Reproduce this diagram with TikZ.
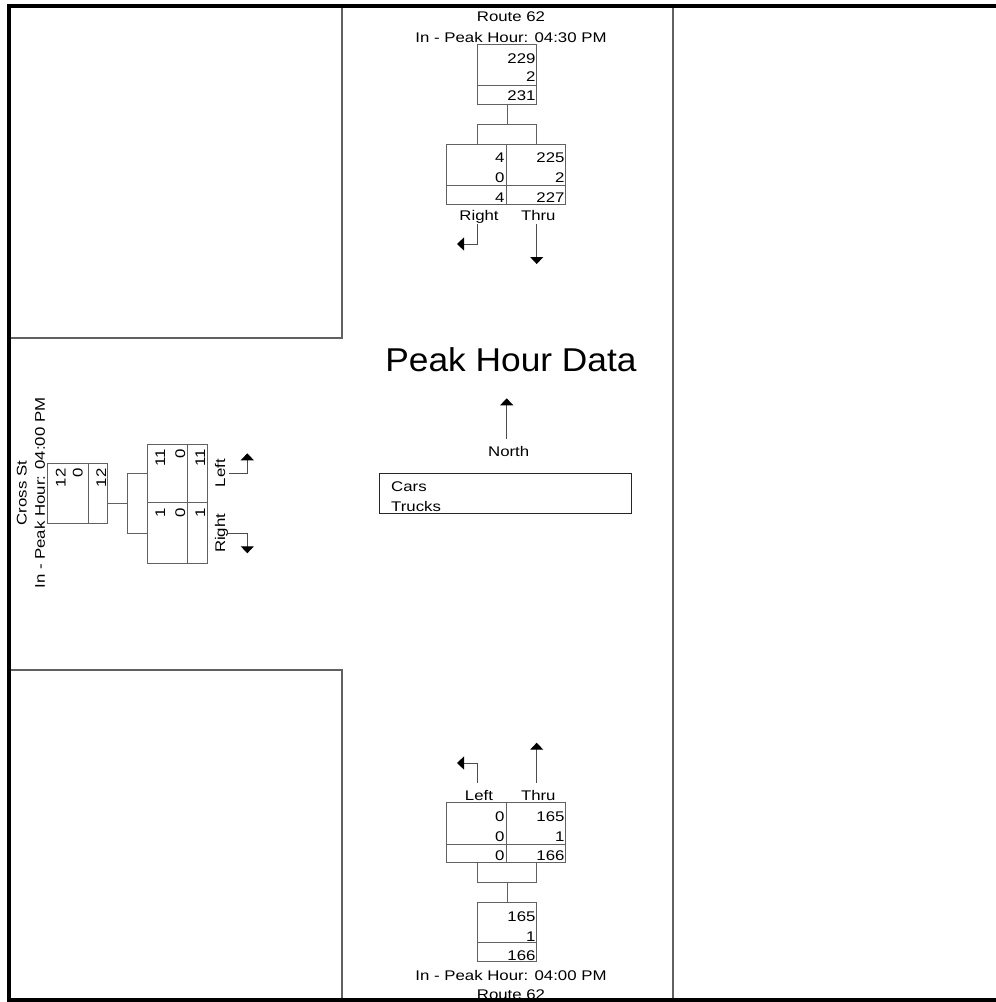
\documentclass[tikz,border=0pt]{standalone}
\usepackage{fontspec}
\newfontfamily\tcfont[FakeStretch=1.2]{Liberation Sans}
\newfontfamily\tcbigfont[FakeStretch=1.07]{Liberation Sans}
\usetikzlibrary{arrows.meta}
\definecolor{linegray}{gray}{0.38}
\definecolor{wiregray}{gray}{0.3}

\begin{document}
\begin{tikzpicture}
[x=1pt,y=-1pt,line width=1pt,
txt/.style={inner sep=0pt, font={\tcfont\fontsize{14}{16}\selectfont}},
num/.style={txt, anchor=base east},
rnum/.style={txt, anchor=base east, rotate=90},
rlbl/.style={txt, anchor=base, rotate=90},
cbox/.style={draw=linegray, line width=1pt, inner sep=0pt, outer sep=0pt},
wire/.style={draw=linegray, line width=1pt},
turn/.style={draw=wiregray, line width=1pt, -{Triangle[width=13pt,length=7pt,color=black]}},
outer line/.style={line width=4pt},
grid line/.style={draw=linegray, line width=1.3pt}]
\useasboundingbox (0,0) rectangle (996,1002);
\clip (0,0) rectangle (996,1002);

% street blocks
\draw[grid line] (342,6) -- (342,338) -- (9,338);
\draw[grid line] (9,670) -- (342,670) -- (342,1000);
\draw[grid line] (673,6) -- (673,1000);

% north approach (Route 62)
\node[txt, anchor=base] (rtN) at (511,21) {Route 62};
\node[txt, anchor=base] (pkN) at (511,42.5) {In - Peak Hour: 04:30 PM};
\node[cbox, minimum width=59pt, minimum height=60pt] (inN) at (507.2,74) {};
\draw[wire] (477.7,85) -- (536.7,85);
\node[num] (inN1) at (536,63.3) {229};
\node[num] (inN2) at (536,81.7) {2};
\node[num] (inN3) at (536,100) {231};
\node[cbox, minimum width=119pt, minimum height=59.7pt] (apN) at (506.2,174.2) {};
\draw[wire] (446.7,185.3) -- (565.7,185.3);
\draw[wire] (506.7,144.3) -- (506.7,204);
\node[num] (apNr1) at (505,162.3) {4};
\node[num] (apNr2) at (505,182.3) {0};
\node[num] (apNr3) at (505,202.3) {4};
\node[num] (apNt1) at (565,162.3) {225};
\node[num] (apNt2) at (565,182.3) {2};
\node[num] (apNt3) at (565,202.3) {227};
\coordinate (nL) at (477.3,124.3);
\coordinate (nT) at (536.7,124.3);
\draw[wire] (inN.south) -- (inN.south |- nL);
\draw[wire] (nL |- apN.north) -- (nL) -- (nT) -- (nT |- apN.north);
\node[txt, anchor=base] (lbNr) at (479,220.5) {Right};
\node[txt, anchor=base] (lbNt) at (538.3,220.5) {Thru};
\coordinate (tipNr) at (457,244);
\coordinate (tipNt) at (536.7,264);
\draw[turn] (nL |- lbNr.south) |- (tipNr);
\draw[turn] (nT |- lbNr.south) -- (tipNt);

% west approach (Cross St)
\node[rlbl] (rtW) at (26.7,493) {Cross St};
\node[rlbl] (pkW) at (45,493) {In - Peak Hour: 04:00 PM};
\node[cbox, minimum width=59.6pt, minimum height=60pt] (inW) at (77.5,493.3) {};
\draw[wire] (88.3,463.3) -- (88.3,523.3);
\node[rnum] (inW1) at (65.7,468) {12};
\node[rnum] (inW2) at (82.7,468) {0};
\node[rnum] (inW3) at (106,468) {12};
\node[cbox, minimum width=59.6pt, minimum height=119.3pt] (apW) at (177.5,503.65) {};
\draw[wire] (147.7,502.7) -- (207.3,502.7);
\draw[wire] (187.7,444) -- (187.7,563.3);
\node[rnum] (apWl1) at (165,449) {11};
\node[rnum] (apWl2) at (185,449) {0};
\node[rnum] (apWl3) at (205,449) {11};
\node[rnum] (apWr1) at (165,508) {1};
\node[rnum] (apWr2) at (185,508) {0};
\node[rnum] (apWr3) at (205,508) {1};
\coordinate (wJ) at (127.3,503.3);
\coordinate (wL) at (127.3,473.3);
\coordinate (wR) at (127.3,533.3);
\draw[wire] (inW.east |- wJ) -- (wJ);
\draw[wire] (apW.west |- wL) -- (wL) -- (wR) -- (apW.west |- wR);
\node[rlbl] (lbWl) at (225,473.3) {Left};
\node[rlbl] (lbWr) at (225,533.3) {Right};
\coordinate (tipWl) at (247.3,453.3);
\coordinate (tipWr) at (247.3,553.3);
\draw[turn, shorten <=3pt] (lbWl.south) -| (tipWl);
\draw[turn] (lbWr.south |- wR) -| (tipWr);

% title, compass and legend
\node[inner sep=0pt, anchor=base, font={\tcbigfont\fontsize{33}{36}\selectfont}] (title) at (511,371) {Peak Hour Data};
\node[txt, anchor=base] (north) at (508.7,456) {North};
\coordinate (tipN) at (506.7,398.3);
\draw[turn, shorten <=6.5pt] (tipN |- north.north) -- (tipN);
\node[draw=black!85, line width=1pt, inner sep=0pt, minimum width=251.7pt, minimum height=40pt] (legend) at (505.2,493.3) {};
\node[txt, anchor=base west] (cars) at (390.7,491.7) {Cars};
\node[txt, anchor=base west] (trucks) at (390.7,511.7) {Trucks};

% south approach (Route 62)
\node[cbox, minimum width=119pt, minimum height=59.6pt] (apS) at (506.2,832.5) {};
\draw[wire] (446.7,844) -- (565.7,844);
\draw[wire] (506.7,802.7) -- (506.7,862.3);
\node[num] (apSl1) at (505,821.7) {0};
\node[num] (apSl2) at (505,841.7) {0};
\node[num] (apSl3) at (505,860.7) {0};
\node[num] (apSt1) at (565,821.7) {165};
\node[num] (apSt2) at (565,841.7) {1};
\node[num] (apSt3) at (565,860.7) {166};
\node[cbox, minimum width=59pt, minimum height=59pt] (inS) at (507.2,932.2) {};
\draw[wire] (477.7,942.3) -- (536.7,942.3);
\node[num] (inS1) at (536,921) {165};
\node[num] (inS2) at (536,941) {1};
\node[num] (inS3) at (536,960.7) {166};
\coordinate (sL) at (477.3,882.7);
\coordinate (sT) at (536.7,882.7);
\draw[wire] (sL |- apS.south) -- (sL) -- (sT) -- (sT |- apS.south);
\draw[wire] (inS.north) -- (inS.north |- sL);
\node[txt, anchor=base] (lbSl) at (479,800.5) {Left};
\node[txt, anchor=base] (lbSt) at (538.3,800.5) {Thru};
\coordinate (tipSl) at (457,763);
\coordinate (tipSt) at (536.7,742.7);
\draw[turn, shorten <=7pt] (sL |- lbSl.north) |- (tipSl);
\draw[turn, shorten <=7pt] (sT |- lbSl.north) -- (tipSt);
\node[txt, anchor=base] (pkS) at (511,980) {In - Peak Hour: 04:00 PM};
\node[txt, anchor=base] (rtS) at (511,999.5) {Route 62};

% outer frame
\draw[outer line] (1000,6) -- (9,6) -- (9,999.5) -- (1000,999.5);
\end{tikzpicture}
\end{document}
